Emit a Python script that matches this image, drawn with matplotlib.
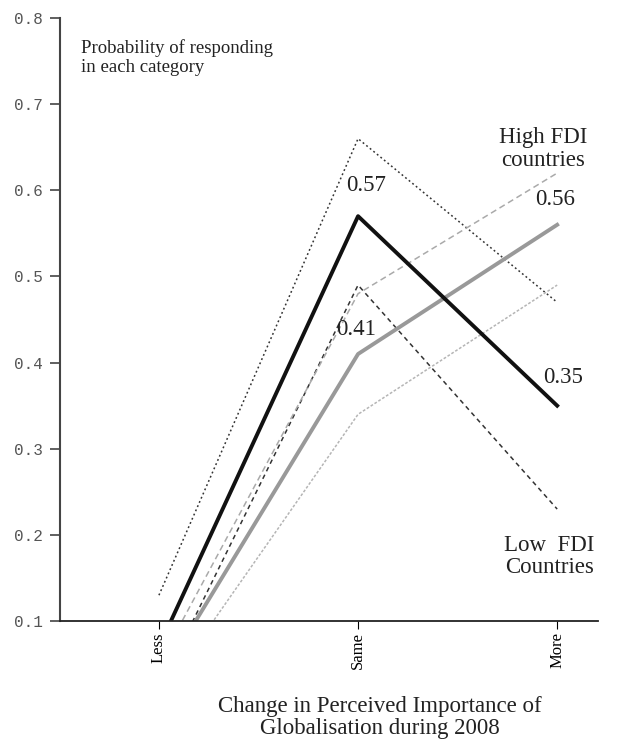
import numpy as np
import matplotlib
matplotlib.use("Agg")
import matplotlib.pyplot as plt
import matplotlib.transforms as mtransforms

# values (probability of responding in each category)
categories = ["Less", "Same", "More"]
low_fdi = [0.07, 0.57, 0.35]
low_fdi_upper = [0.13, 0.66, 0.47]
low_fdi_lower = [0.02, 0.49, 0.23]
high_fdi = [0.03, 0.41, 0.56]
high_fdi_upper = [0.05, 0.48, 0.62]
high_fdi_lower = [0.01, 0.34, 0.49]
yticks = [0.1, 0.2, 0.3, 0.4, 0.5, 0.6, 0.7, 0.8]

serif = "Liberation Serif"
x = np.arange(len(categories))

fig = plt.figure(figsize=(6.43, 7.42), dpi=100)
ax = fig.add_axes([0.0933, 0.163, 0.837, 0.8127])

# confidence bands first, means on top
ax.plot(x, low_fdi_upper, color="#333333", lw=1.1, linestyle=(0, (1.2, 1.8)))
ax.plot(x, low_fdi_lower, color="#333333", lw=1.1, linestyle=(0, (3, 2.5)))
ax.plot(x, high_fdi_upper, color="#aaaaaa", lw=1.1, linestyle=(0, (4, 2.5)))
ax.plot(x, high_fdi_lower, color="#b5b5b5", lw=1.1, linestyle=(0, (1.8, 1.2)))
ax.plot(x, high_fdi, color="#999999", lw=2.8)
ax.plot(x, low_fdi, color="#111111", lw=2.8)

# value labels
lab_kw = dict(fontsize=16.5, family=serif, ha="center", va="center", color="#222222")
ax.text(1.04, low_fdi[1] + 0.036, f"{low_fdi[1]:.2f}", **lab_kw)
ax.text(0.99, high_fdi[1] + 0.028, f"{high_fdi[1]:.2f}", **lab_kw)
ax.text(1.99, high_fdi[2] + 0.029, f"{high_fdi[2]:.2f}", **lab_kw)
ax.text(2.03, low_fdi[2] + 0.033, f"{low_fdi[2]:.2f}", **lab_kw)

ax.text(1.93, 0.648, "High FDI\ncountries", linespacing=1.07, **lab_kw)
ax.text(1.96, 0.175, "Low  FDI\nCountries", linespacing=1.07, **lab_kw)
ax.text(-0.39, 0.754, "Probability of responding\nin each category", fontsize=13.5,
        family=serif, ha="left", va="center", linespacing=1.2, color="#222222")

ax.set_xlim(-0.497, 2.206)
ax.set_ylim(0.1, 0.8)
ax.set_xticks(x)
ax.set_xticklabels(categories, rotation=90, family=serif, fontsize=12, va="top")
shift = mtransforms.ScaledTranslation(-3 / 100, 0, fig.dpi_scale_trans)
for lbl in ax.get_xticklabels():
    lbl.set_transform(lbl.get_transform() + shift)
ax.set_yticks(yticks)
ax.set_yticklabels([f"{v:.1f}" for v in yticks], family="Liberation Mono",
                   fontsize=11.5, color="#555555")
ax.tick_params(axis="y", direction="out", length=7, width=1.2, color="#444444", pad=5)
ax.tick_params(axis="x", direction="out", length=6, width=0.8, pad=2)

for side in ["top", "right"]:
    ax.spines[side].set_visible(False)
ax.spines["left"].set_color("#444444")
ax.spines["left"].set_linewidth(1.5)
ax.spines["bottom"].set_linewidth(1.3)
ax.spines["bottom"].set_color("#222222")

ax.set_xlabel("Change in Perceived Importance of\nGlobalisation during 2008",
              family=serif, fontsize=16.5, linespacing=1.1, color="#222222")
ax.xaxis.set_label_coords(0.595, -0.124)

fig.savefig("out.png", dpi=100)
